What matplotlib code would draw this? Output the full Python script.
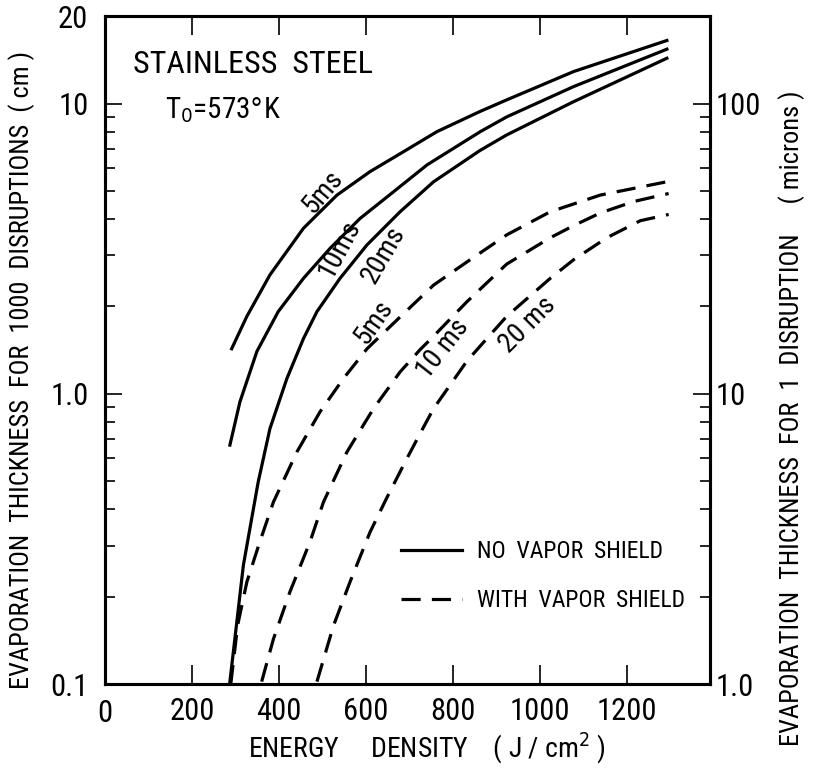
import matplotlib
matplotlib.use("Agg")
import matplotlib.pyplot as plt
from matplotlib.ticker import FixedLocator, FixedFormatter, NullFormatter
from matplotlib.lines import Line2D

plt.rcParams['font.family'] = ['Liberation Sans Narrow', 'Roboto Condensed', 'DejaVu Sans']
plt.rcParams['font.stretch'] = 'condensed'

# no vapor shield (solid)
x_5ms = [291, 326, 341, 379, 456, 533, 609, 686, 763, 862, 923, 1077, 1291]
y_5ms = [1.43, 1.85, 2.03, 2.57, 3.72, 4.84, 5.83, 6.83, 8.01, 9.4, 10.3, 12.9, 16.5]
x_10ms = [287, 310, 349, 398, 456, 517, 586, 663, 740, 862, 923, 1077, 1291]
y_10ms = [0.666, 0.938, 1.40, 1.92, 2.50, 3.17, 4.02, 4.97, 6.15, 8.0, 9.0, 11.45, 15.4]
x_20ms = [287, 318, 352, 379, 418, 456, 487, 540, 602, 678, 755, 862, 923, 1077, 1291]
y_20ms = [0.102, 0.257, 0.497, 0.759, 1.13, 1.55, 1.92, 2.50, 3.26, 4.24, 5.38,
          6.9, 7.8, 10.16, 14.33]

# with vapor shield (dashed)
xs_5ms = [289, 305, 326, 356, 387, 441, 494, 548, 602, 678, 755, 832, 923, 1023, 1138, 1291]
ys_5ms = [0.10, 0.16, 0.225, 0.31, 0.424, 0.631, 0.867, 1.13, 1.43, 1.84, 2.37, 2.85,
          3.53, 4.24, 4.84, 5.38]
xs_10ms = [360, 387, 425, 471, 502, 556, 617, 678, 724, 755, 832, 923, 1023, 1077, 1138,
           1215, 1295]
ys_10ms = [0.102, 0.143, 0.208, 0.309, 0.424, 0.631, 0.890, 1.19, 1.42, 1.58, 2.08, 2.80,
           3.45, 3.80, 4.2, 4.6, 4.9]
xs_20ms = [487, 525, 563, 609, 648, 694, 724, 755, 832, 923, 1023, 1077, 1153, 1230, 1295]
ys_20ms = [0.102, 0.159, 0.225, 0.334, 0.44, 0.60, 0.73, 0.89, 1.30, 1.85, 2.50,
           2.90, 3.45, 3.95, 4.15]

xticks = [200, 400, 600, 800, 1000, 1200]
xlabels = ['200', '400', '600', '800', '1000', '1200']
yticks_left = [0.1, 1.0, 10, 20]
ylabels_left = ['0.1', '1.0', '10', '20']
yticks_right = [1.0, 10, 100]
ylabels_right = ['1.0', '10', '100']

fig = plt.figure(figsize=(8.17, 7.73), dpi=100)
ax = fig.add_axes([0.1285, 0.115, 0.7405, 0.864])

lw = 2.3
ax.plot(x_5ms, y_5ms, color='black', lw=lw)
ax.plot(x_10ms, y_10ms, color='black', lw=lw)
ax.plot(x_20ms, y_20ms, color='black', lw=lw)
dash = (6, 3.5)
ax.plot(xs_5ms, ys_5ms, color='black', lw=lw, dashes=dash)
ax.plot(xs_10ms, ys_10ms, color='black', lw=lw, dashes=dash)
ax.plot(xs_20ms, ys_20ms, color='black', lw=lw, dashes=dash)

ax.set_yscale('log')
ax.set_xlim(0, 1390)
ax.set_ylim(0.1, 20)

minors = [m * d for d in (0.1, 1) for m in range(2, 10)]
ax.yaxis.set_major_locator(FixedLocator(yticks_left))
ax.yaxis.set_major_formatter(FixedFormatter(ylabels_left))
ax.yaxis.set_minor_locator(FixedLocator(minors))
ax.yaxis.set_minor_formatter(NullFormatter())
ax.set_xticks(xticks)
ax.set_xticklabels(xlabels)
ax.text(0, -0.022, '0', transform=ax.transAxes, ha='center', va='top', fontsize=22)

ax.tick_params(axis='x', which='both', direction='in', top=True, length=14, width=1.2,
               labelsize=22, pad=9)
ax.tick_params(axis='y', which='major', direction='in', length=12, width=1.2,
               labelsize=22, pad=12)
ax.tick_params(axis='y', which='minor', direction='in', length=7, width=1.2)
for s in ax.spines.values():
    s.set_linewidth(2.2)

ax2 = ax.twinx()
ax2.set_yscale('log')
ax2.set_ylim(1.0, 200)
minors_r = [m * d for d in (1, 10) for m in range(2, 10)]
ax2.yaxis.set_major_locator(FixedLocator(yticks_right))
ax2.yaxis.set_major_formatter(FixedFormatter(ylabels_right))
ax2.yaxis.set_minor_locator(FixedLocator(minors_r))
ax2.yaxis.set_minor_formatter(NullFormatter())
ax2.tick_params(axis='y', which='major', direction='in', length=12, width=1.2,
                labelsize=22, pad=4)
ax2.tick_params(axis='y', which='minor', direction='in', length=7, width=1.2)
for s in ax2.spines.values():
    s.set_linewidth(2.2)

# curve labels
lab = dict(fontsize=20, ha='center', va='center', rotation_mode='anchor')
ax.text(501, 4.97, '5ms', rotation=50, **lab)
ax.text(540, 3.16, '10ms', rotation=62, **lab)
ax.text(639, 3.01, '20ms', rotation=60, **lab)
ax.text(616, 1.77, '5ms', rotation=55, **lab)
ax.text(777, 1.43, '10 ms', rotation=52, **lab)
ax.text(972, 1.73, '20 ms', rotation=45, **lab)

ax.text(0.046, 0.927, 'STAINLESS  STEEL', transform=ax.transAxes, fontsize=23,
        ha='left', va='center')
ax.text(0.099, 0.859, r'T$_0$=573$\degree$K', transform=ax.transAxes, fontsize=21,
        ha='left', va='center')

handles = [Line2D([], [], color='black', lw=lw),
           Line2D([], [], color='black', lw=lw, dashes=dash)]
ax.legend(handles, ['NO  VAPOR  SHIELD', 'WITH  VAPOR  SHIELD'], loc='center left',
          bbox_to_anchor=(0.49, 0.162), frameon=False, fontsize=17,
          handlelength=2.55, handletextpad=0.65, labelspacing=1.1,
          borderpad=0, borderaxespad=0)

fig.text(427 / 817, 1 - 748 / 773, r'ENERGY     DENSITY    ( J / cm$^2$ )',
         ha='center', va='center', fontsize=20)
fig.text(22 / 817, 1 - 370 / 773, 'EVAPORATION  THICKNESS  FOR  1000  DISRUPTIONS  ( cm )',
         rotation=90, ha='center', va='center', fontsize=19)
fig.text(792 / 817, 1 - 418 / 773, 'EVAPORATION  THICKNESS  FOR  1  DISRUPTION     ( microns )',
         rotation=90, ha='center', va='center', fontsize=19)

fig.savefig('out.png', dpi=100)
